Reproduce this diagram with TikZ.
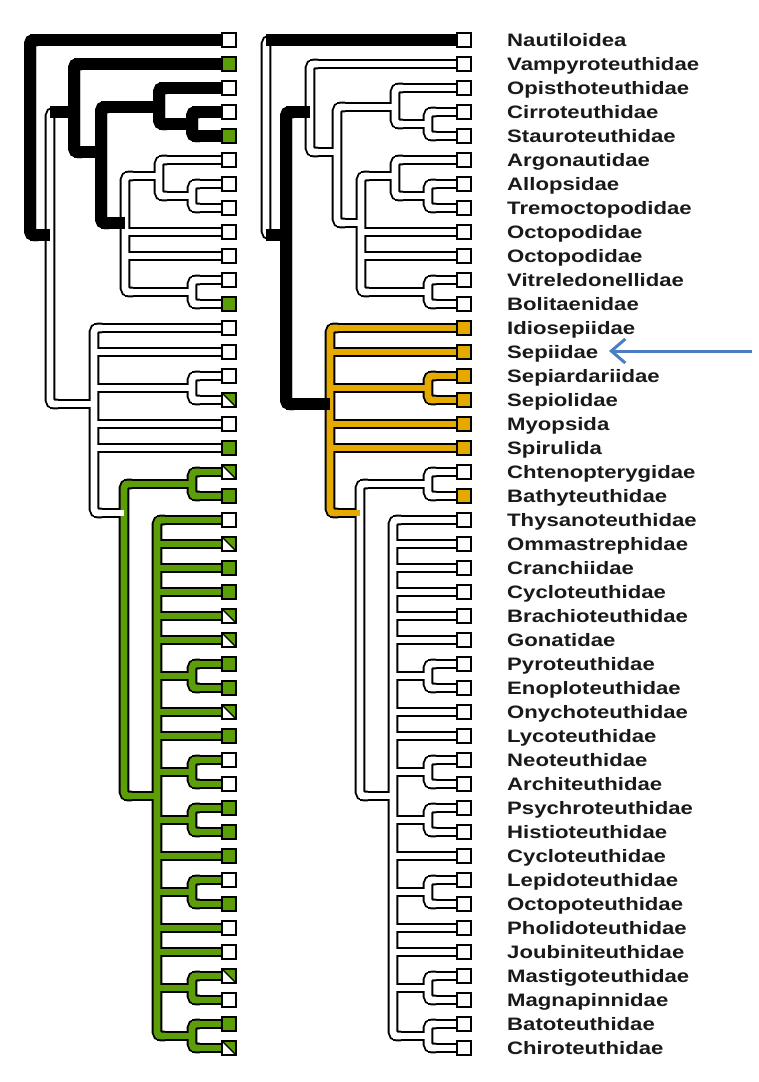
\documentclass[tikz,border=0pt]{standalone}
\usepackage{fontspec}
\newfontfamily\labfont[FakeStretch=1.23]{Liberation Sans}
\usetikzlibrary{calc,arrows.meta}
\pgfdeclarelayer{bgl}
\pgfdeclarelayer{ol}
\pgfdeclarelayer{vf}
\pgfdeclarelayer{top}
\pgfsetlayers{bgl,ol,vf,main,top}
\definecolor{grn}{RGB}{92,158,8}
\definecolor{org}{RGB}{228,170,0}
\definecolor{arw}{RGB}{74,126,193}
\tikzset{
 olw/.style={draw=black,line width=10.6pt},
 olg/.style={olw}, olo/.style={olw},
 olk/.style={draw=black,line width=12pt},
 fw/.style={draw=white,line width=6.8pt},
 fg/.style={draw=grn,line width=6.8pt},
 fo/.style={draw=org,line width=6.8pt},
 fk/.style={draw=black,line width=12pt},
 rc/.style={rounded corners=4pt},
 bx/.style={draw=black,line width=1.8pt,minimum size=14pt,inner sep=0pt,outer sep=0pt,fill=white},
 bw/.style={bx}, bg/.style={bx,fill=grn}, bo/.style={bx,fill=org},
 bd/.style={bx,path picture={
   \fill[grn] (path picture bounding box.north west) -- (path picture bounding box.north east) -- (path picture bounding box.south east) -- cycle;
   \draw[line width=1.2pt] (path picture bounding box.north west) -- (path picture bounding box.south east);}},
 lab/.style={anchor=base west,inner sep=0pt,text=black!90,font=\labfont\bfseries\fontsize{18}{20}\selectfont}
}
\newcommand\brV[4]{%
 \begin{pgfonlayer}{ol}\draw[ol#1,rc] ($(#2.center|-#3.center)+(8,0)$) -- (#2.center|-#3.center) -- (#2.center|-#4.center) -- ($(#2.center|-#4.center)+(8,0)$);\end{pgfonlayer}%
 \begin{pgfonlayer}{vf}\draw[f#1,rc] ($(#2.center|-#3.center)+(8,0)$) -- (#2.center|-#3.center) -- (#2.center|-#4.center) -- ($(#2.center|-#4.center)+(8,0)$);\end{pgfonlayer}}
\newcommand\brH[3]{%
 \begin{pgfonlayer}{ol}\draw[ol#1] (#2.center|-#3.center) -- (#3.center);\end{pgfonlayer}%
 \draw[f#1] (#2.center|-#3.center) -- (#3.center);}
\newcommand\cladepair[5]{\brH{#1}{#2}{#3}\brV{#1}{#3}{#4}{#5}\brH{#1}{#3}{#4}\brH{#1}{#3}{#5}}
\newcommand\defcoords[1]{%
 \coordinate (#1root) at (266,137);
 \coordinate (#1col) at (286,235);
 \coordinate (#1ofm) at (310,112);
 \coordinate (#1oct) at (337,152);
 \coordinate (#1cir) at (395,107);
 \coordinate (#1cs) at (428,124);
 \coordinate (#1inc) at (361,223);
 \coordinate (#1arg) at (395,176);
 \coordinate (#1at) at (428,196);
 \coordinate (#1vb) at (428,292);
 \coordinate (#1dec) at (330,404);
 \coordinate (#1ss) at (428,388);
 \coordinate (#1oeg) at (360,513);
 \coordinate (#1cb) at (428,484);
 \coordinate (#1rest) at (393,796);
 \coordinate (#1pa) at (428,676);
 \coordinate (#1pb) at (428,772);
 \coordinate (#1pc) at (428,820);
 \coordinate (#1pd) at (428,892);
 \coordinate (#1pe) at (428,988);
 \coordinate (#1pf) at (428,1036);
}
% #1 prefix, #2 root V, #3 Coleoidea V, #4 Octopodiformes group, #5 Incirrata group,
% #6 Decapodiformes stem, #7 Decapodiformes group, #8 Oegopsida group
\newcommand\drawtree[8]{%
 \brV{#2}{#1root}{#10}{#1col}
 \brH{k}{#1root}{#10}
 \brH{k}{#1root}{#1col}
 \brV{#3}{#1col}{#1ofm}{#1dec}
 \brH{k}{#1col}{#1ofm}
 \brV{#4}{#1ofm}{#11}{#1oct}
 \brH{#4}{#1ofm}{#11}
 \brH{#4}{#1ofm}{#1oct}
 \brV{#4}{#1oct}{#1cir}{#1inc}
 \brH{#4}{#1oct}{#1cir}
 \brV{#4}{#1cir}{#12}{#1cs}
 \brH{#4}{#1cir}{#12}
 \cladepair{#4}{#1cir}{#1cs}{#13}{#14}
 \brH{#4}{#1oct}{#1inc}
 \brV{#5}{#1inc}{#1arg}{#1vb}
 \brH{#5}{#1inc}{#1arg}
 \brV{#5}{#1arg}{#15}{#1at}
 \brH{#5}{#1arg}{#15}
 \cladepair{#5}{#1arg}{#1at}{#16}{#17}
 \brH{#5}{#1inc}{#18}
 \brH{#5}{#1inc}{#19}
 \cladepair{#5}{#1inc}{#1vb}{#110}{#111}
 \brH{#6}{#1col}{#1dec}
 \brV{#7}{#1dec}{#112}{#1oeg}
 \brH{#7}{#1dec}{#112}
 \brH{#7}{#1dec}{#113}
 \cladepair{#7}{#1dec}{#1ss}{#114}{#115}
 \brH{#7}{#1dec}{#116}
 \brH{#7}{#1dec}{#117}
 \brH{#7}{#1dec}{#1oeg}
 \brV{#8}{#1oeg}{#1cb}{#1rest}
 \cladepair{#8}{#1oeg}{#1cb}{#118}{#119}
 \brH{#8}{#1oeg}{#1rest}
 \brV{#8}{#1rest}{#120}{#1pf}
 \brH{#8}{#1rest}{#120}
 \brH{#8}{#1rest}{#121}
 \brH{#8}{#1rest}{#122}
 \brH{#8}{#1rest}{#123}
 \brH{#8}{#1rest}{#124}
 \brH{#8}{#1rest}{#125}
 \cladepair{#8}{#1rest}{#1pa}{#126}{#127}
 \brH{#8}{#1rest}{#128}
 \brH{#8}{#1rest}{#129}
 \cladepair{#8}{#1rest}{#1pb}{#130}{#131}
 \cladepair{#8}{#1rest}{#1pc}{#132}{#133}
 \brH{#8}{#1rest}{#134}
 \cladepair{#8}{#1rest}{#1pd}{#135}{#136}
 \brH{#8}{#1rest}{#137}
 \brH{#8}{#1rest}{#138}
 \cladepair{#8}{#1rest}{#1pe}{#139}{#140}
 \cladepair{#8}{#1rest}{#1pf}{#141}{#142}
}
\begin{document}
\begin{tikzpicture}[x=1pt,y=-1pt]
\useasboundingbox (0,0) rectangle (759,1082);
\begin{pgfonlayer}{bgl}\fill[white] (0,0) rectangle (759,1082);\end{pgfonlayer}
% internal nodes
\begin{scope}[xshift=-236pt]\defcoords{L}\end{scope}
\defcoords{R}
% terminal boxes
\begin{pgfonlayer}{top}
\foreach \s [count=\i from 0] in {bw,bg,bw,bw,bg,bw,bw,bw,bw,bw,bw,bg,bw,bw,bw,bd,bw,bg,bd,bg,bw,bd,bg,bg,bd,bd,bg,bg,bd,bg,bw,bw,bg,bg,bg,bw,bg,bw,bw,bd,bw,bg,bd}
  \node[\s] (L\i) at (229,{40+24*\i}) {};
\foreach \s [count=\i from 0] in {bw,bw,bw,bw,bw,bw,bw,bw,bw,bw,bw,bw,bo,bo,bo,bo,bo,bo,bw,bo,bw,bw,bw,bw,bw,bw,bw,bw,bw,bw,bw,bw,bw,bw,bw,bw,bw,bw,bw,bw,bw,bw,bw}
  \node[\s] (R\i) at (464,{40+24*\i}) {};
\end{pgfonlayer}
% labels
\foreach \n [count=\i from 0] in {Nautiloidea,Vampyroteuthidae,Opisthoteuthidae,Cirroteuthidae,Stauroteuthidae,Argonautidae,Allopsidae,Tremoctopodidae,Octopodidae,Octopodidae,Vitreledonellidae,Bolitaenidae,Idiosepiidae,Sepiidae,Sepiardariidae,Sepiolidae,Myopsida,Spirulida,Chtenopterygidae,Bathyteuthidae,Thysanoteuthidae,Ommastrephidae,Cranchiidae,Cycloteuthidae,Brachioteuthidae,Gonatidae,Pyroteuthidae,Enoploteuthidae,Onychoteuthidae,Lycoteuthidae,Neoteuthidae,Architeuthidae,Psychroteuthidae,Histioteuthidae,Cycloteuthidae,Lepidoteuthidae,Octopoteuthidae,Pholidoteuthidae,Joubiniteuthidae,Mastigoteuthidae,Magnapinnidae,Batoteuthidae,Chiroteuthidae}
  \node[lab] (lab\i) at (507,{40+24*\i+6.5}) {\n};
% trees
\drawtree{L}{k}{w}{k}{w}{w}{w}{g}
\drawtree{R}{w}{k}{w}{w}{k}{o}{w}
% arrow
\coordinate (arrS) at (752,351);
\coordinate (arrT) at (609,351);
\draw[draw=arw,line width=3pt,-{Straight Barb[length=14pt,width=24pt]}] (arrS) -- (arrT);
\end{tikzpicture}
\end{document}
